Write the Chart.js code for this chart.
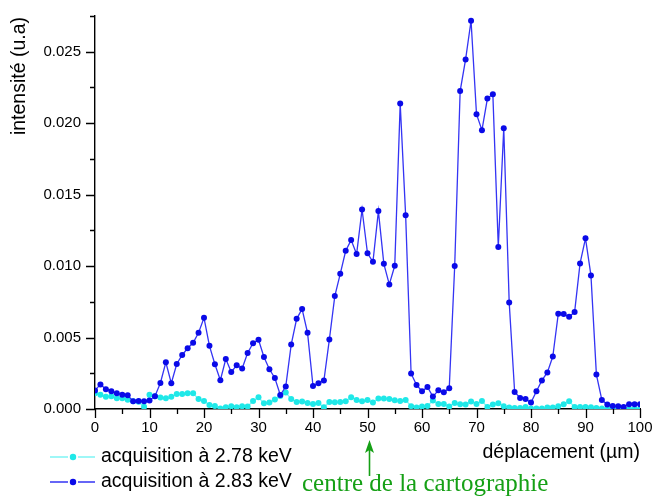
<!DOCTYPE html>
<html><head><meta charset="utf-8">
<script src="https://cdn.jsdelivr.net/npm/chart.js@4.4.1/dist/chart.umd.min.js"></script>
<style>html,body{margin:0;padding:0;background:#fff;}#wrap{position:relative;width:656px;height:497px;}</style>
</head><body><div id="wrap"><canvas id="c" width="656" height="497"></canvas></div>
<script>
const positions = [0,1,2,3,4,5,6,7,8,9,10,11,12,13,14,15,16,17,18,19,20,21,22,23,24,25,26,27,28,29,30,31,32,33,34,35,36,37,38,39,40,41,42,43,44,45,46,47,48,49,50,51,52,53,54,55,56,57,58,59,60,61,62,63,64,65,66,67,68,69,70,71,72,73,74,75,76,77,78,79,80,81,82,83,84,85,86,87,88,89,90,91,92,93,94,95,96,97,98,99,100];

const acq278 = [0.00110,0.00100,0.00085,0.00090,0.00075,0.00075,0.00065,0.00055,0.00050,0.00015,
0.00100,0.00090,0.00080,0.00075,0.00085,0.00105,0.00105,0.00110,0.00110,0.00070,
0.00056,0.00028,0.00021,0.00003,0.00012,0.00019,0.00012,0.00019,0.00017,0.00056,
0.00082,0.00040,0.00045,0.00066,0.00091,0.00115,0.00070,0.00049,0.00052,0.00042,
0.00035,0.00042,0.00012,0.00049,0.00047,0.00049,0.00054,0.00082,0.00063,0.00054,
0.00063,0.00045,0.00073,0.00073,0.00070,0.00061,0.00056,0.00063,0.00020,0.00010,
0.00017,0.00021,0.00059,0.00035,0.00035,0.00017,0.00042,0.00033,0.00031,0.00052,
0.00035,0.00056,0.00014,0.00031,0.00040,0.00019,0.00010,0.00007,0.00007,0.00014,
0.00004,0.00004,0.00004,0.00010,0.00010,0.00019,0.00033,0.00054,0.00014,0.00014,
0.00014,0.00012,0.00007,0.00004,0.00003,0.00000,0.00000,0.00000,0.00000,0.00000,0.00000];

const acq283 = [0.00130,0.00172,0.00138,0.00124,0.00110,0.00100,0.00096,0.00055,0.00056,0.00055,
0.00060,0.00090,0.00182,0.00327,0.00180,0.00315,0.00378,0.00425,0.00463,0.00533,
0.00638,0.00442,0.00313,0.00201,0.00350,0.00259,0.00306,0.00283,0.00392,0.00460,
0.00484,0.00364,0.00278,0.00217,0.00098,0.00157,0.00451,0.00631,0.00699,0.00533,
0.00161,0.00180,0.00199,0.00486,0.00790,0.00946,0.01107,0.01182,0.01084,0.01396,
0.01089,0.01030,0.01385,0.01016,0.00872,0.01002,0.02137,0.01355,0.00248,0.00168,
0.00124,0.00154,0.00087,0.00131,0.00117,0.00146,0.01000,0.02225,0.02446,0.02717,
0.02063,0.01951,0.02172,0.02203,0.01133,0.01965,0.00746,0.00119,0.00077,0.00070,
0.00045,0.00124,0.00200,0.00256,0.00367,0.00666,0.00664,0.00645,0.00678,0.01019,
0.01194,0.00935,0.00241,0.00063,0.00031,0.00021,0.00019,0.00014,0.00033,0.00033,0.00033];

const seriesNames = ['acquisition à 2.78 keV', 'acquisition à 2.83 keV'];
const xMajorTicks = [0,10,20,30,40,50,60,70,80,90,100];
const xMinorTicks = [5,15,25,35,45,55,65,75,85,95];
const yMajorTicks = [0,0.005,0.010,0.015,0.020,0.025];
const yMinorTicks = [0.0025,0.0075,0.0125,0.0175,0.0225,0.0275];
const xTitle = 'déplacement (µm)';
const yTitle = 'intensité (u.a)';
const noteText = 'centre de la cartographie';
const noteAt = 50;

const C_CYAN_PT = '#1fe8e8', C_CYAN_LN = '#7ff5f5';
const C_BLUE_PT = '#0a0ae8', C_BLUE_LN = '#3434f4';
const SANS = "'Liberation Sans', Arial, sans-serif";

const extras = {
  id: 'extras',
  afterDraw(chart) {
    const ctx = chart.ctx, xs = chart.scales.x, ys = chart.scales.y;
    const x0 = xs.left, yb = ys.bottom;
    ctx.save();
    ctx.strokeStyle = '#000'; ctx.lineWidth = 1.3;
    ctx.beginPath();
    xMajorTicks.forEach(v => { const p = Math.round(xs.getPixelForValue(v)) + 0.5; ctx.moveTo(p, yb); ctx.lineTo(p, yb + 9); });
    xMinorTicks.forEach(v => { const p = Math.round(xs.getPixelForValue(v)) + 0.5; ctx.moveTo(p, yb); ctx.lineTo(p, yb + 5); });
    yMajorTicks.forEach(v => { const p = Math.round(ys.getPixelForValue(v)) + 0.5; ctx.moveTo(x0, p); ctx.lineTo(x0 - 9, p); });
    yMinorTicks.forEach(v => { const p = Math.round(ys.getPixelForValue(v)) + 0.5; ctx.moveTo(x0, p); ctx.lineTo(x0 - 5, p); });
    ctx.stroke();

    ctx.fillStyle = '#000';
    ctx.font = '19.5px ' + SANS;
    ctx.save();
    ctx.translate(20, 76); ctx.rotate(-Math.PI / 2);
    ctx.textAlign = 'center'; ctx.textBaseline = 'middle';
    ctx.fillText(yTitle, 0, 0);
    ctx.restore();
    ctx.textAlign = 'right'; ctx.textBaseline = 'middle';
    ctx.fillText(xTitle, xs.right, 453);

    const rows = [[C_CYAN_LN, C_CYAN_PT, 457], [C_BLUE_LN, C_BLUE_PT, 482]];
    rows.forEach((r, i) => {
      ctx.strokeStyle = r[0]; ctx.lineWidth = 1.5;
      ctx.beginPath(); ctx.moveTo(50, r[2]); ctx.lineTo(68, r[2]); ctx.moveTo(78, r[2]); ctx.lineTo(95, r[2]); ctx.stroke();
      ctx.fillStyle = r[1]; ctx.beginPath(); ctx.arc(73, r[2], 3.2, 0, Math.PI * 2); ctx.fill();
      ctx.fillStyle = '#000'; ctx.textAlign = 'left'; ctx.textBaseline = 'middle';
      ctx.fillText(seriesNames[i], 101, r[2]);
    });

    const ax = Math.round(xs.getPixelForValue(noteAt)) + 1.5;
    ctx.strokeStyle = '#16a016'; ctx.fillStyle = '#16a016'; ctx.lineWidth = 1.6;
    ctx.beginPath(); ctx.moveTo(ax, 476); ctx.lineTo(ax, 450); ctx.stroke();
    ctx.beginPath(); ctx.moveTo(ax, 440); ctx.lineTo(ax - 4.5, 453); ctx.lineTo(ax, 450); ctx.lineTo(ax + 4.5, 453); ctx.closePath(); ctx.fill();
    ctx.font = "25px 'Liberation Serif', 'Times New Roman', serif";
    ctx.textAlign = 'left'; ctx.textBaseline = 'alphabetic';
    ctx.fillText(noteText, 302, 491);
    ctx.restore();
  }
};

const toXY = arr => positions.map((x, i) => ({ x: x, y: arr[i] }));

new Chart(document.getElementById('c'), {
  type: 'line',
  data: {
    datasets: [
      { label: seriesNames[1], data: toXY(acq283), order: 0, borderColor: C_BLUE_LN, backgroundColor: C_BLUE_PT,
        pointBackgroundColor: C_BLUE_PT, pointBorderColor: C_BLUE_PT, pointRadius: 3, pointBorderWidth: 0, borderWidth: 1.3, tension: 0 },
      { label: seriesNames[0], data: toXY(acq278), order: 1, borderColor: C_CYAN_LN, backgroundColor: C_CYAN_PT,
        pointBackgroundColor: C_CYAN_PT, pointBorderColor: C_CYAN_PT, pointRadius: 3, pointBorderWidth: 0, borderWidth: 1.3, tension: 0 }
    ]
  },
  options: {
    responsive: false, devicePixelRatio: 1, animation: false,
    layout: { padding: { left: 0, top: 16, right: 16, bottom: 0 } },
    plugins: { legend: { display: false }, tooltip: { enabled: false } },
    scales: {
      x: {
        type: 'linear', min: 0, max: 100,
        afterFit: s => { s.height = 88; s.paddingLeft = 0; s.paddingRight = 0; },
        afterBuildTicks: s => { s.ticks = xMajorTicks.map(v => ({ value: v })); },
        ticks: { autoSkip: false, maxRotation: 0, padding: 10, color: '#000', font: { family: SANS, size: 15 } },
        grid: { display: false, drawTicks: false },
        border: { display: true, color: '#000', width: 1.4 }
      },
      y: {
        type: 'linear', min: 0, max: 0.0275,
        afterFit: s => { s.width = 95; s.paddingTop = 0; s.paddingBottom = 0; },
        afterBuildTicks: s => { s.ticks = yMajorTicks.map(v => ({ value: v })); },
        ticks: { padding: 14, color: '#000', font: { family: SANS, size: 15 }, callback: v => Number(v).toFixed(3) },
        grid: { display: false, drawTicks: false },
        border: { display: true, color: '#000', width: 1.4 }
      }
    }
  },
  plugins: [extras]
});
</script></body></html>
